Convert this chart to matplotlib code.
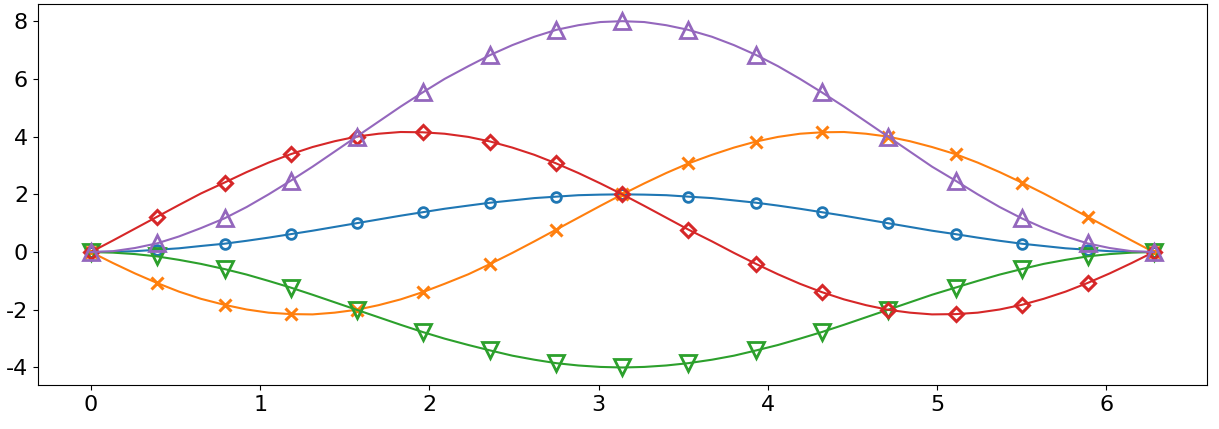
import matplotlib
matplotlib.use("Agg")
import matplotlib.pyplot as plt

plt.rcParams['axes.unicode_minus'] = False

x = [0, 0.13, 0.26, 0.39, 0.52, 0.65, 0.79, 0.92, 1.05, 1.18, 1.31, 1.44, 1.57, 1.70, 1.83, 1.96,
     2.09, 2.23, 2.36, 2.49, 2.62, 2.75, 2.88, 3.01, 3.14, 3.27, 3.40, 3.53, 3.67, 3.80, 3.93, 4.06,
     4.19, 4.32, 4.45, 4.58, 4.71, 4.84, 4.97, 5.11, 5.24, 5.37, 5.50, 5.63, 5.76, 5.89, 6.02, 6.15, 6.28]

blue = [0, 0.01, 0.03, 0.08, 0.13, 0.21, 0.29, 0.39, 0.50, 0.62, 0.74, 0.87, 1.00, 1.13, 1.26, 1.38,
        1.50, 1.61, 1.71, 1.79, 1.87, 1.92, 1.97, 1.99, 2.00, 1.99, 1.97, 1.92, 1.87, 1.79, 1.71, 1.61,
        1.50, 1.38, 1.26, 1.13, 1.00, 0.87, 0.74, 0.62, 0.50, 0.39, 0.29, 0.21, 0.13, 0.08, 0.03, 0.01, 0]

orange = [0, -0.38, -0.74, -1.07, -1.37, -1.62, -1.83, -1.99, -2.10, -2.15, -2.16, -2.10, -2.00, -1.84,
          -1.64, -1.39, -1.10, -0.77, -0.41, -0.03, 0.37, 0.78, 1.19, 1.60, 2.00, 2.38, 2.74, 3.07, 3.37,
          3.62, 3.83, 3.99, 4.10, 4.15, 4.16, 4.10, 4.00, 3.84, 3.64, 3.39, 3.10, 2.77, 2.41, 2.03, 1.63,
          1.22, 0.81, 0.40, 0]

green = [0, -0.02, -0.07, -0.15, -0.27, -0.41, -0.59, -0.78, -1.00, -1.23, -1.48, -1.74, -2.00, -2.26,
         -2.52, -2.77, -3.00, -3.22, -3.41, -3.59, -3.73, -3.85, -3.93, -3.98, -4.00, -3.98, -3.93, -3.85,
         -3.73, -3.59, -3.41, -3.22, -3.00, -2.77, -2.52, -2.26, -2.00, -1.74, -1.48, -1.23, -1.00, -0.78,
         -0.59, -0.41, -0.27, -0.15, -0.07, -0.02, 0]

red = [0, 0.40, 0.81, 1.22, 1.63, 2.03, 2.41, 2.77, 3.10, 3.39, 3.64, 3.84, 4.00, 4.10, 4.16, 4.15, 4.10,
       3.99, 3.83, 3.62, 3.37, 3.07, 2.74, 2.38, 2.00, 1.60, 1.19, 0.78, 0.37, -0.03, -0.41, -0.77, -1.10,
       -1.39, -1.64, -1.84, -2.00, -2.10, -2.16, -2.15, -2.10, -1.99, -1.83, -1.62, -1.37, -1.07, -0.74,
       -0.38, 0]

purple = [0, 0.03, 0.14, 0.30, 0.54, 0.83, 1.17, 1.56, 2.00, 2.47, 2.96, 3.48, 4.00, 4.52, 5.04, 5.53,
          6.00, 6.44, 6.83, 7.17, 7.46, 7.70, 7.86, 7.97, 8.00, 7.97, 7.86, 7.70, 7.46, 7.17, 6.83, 6.44,
          6.00, 5.53, 5.04, 4.52, 4.00, 3.48, 2.96, 2.47, 2.00, 1.56, 1.17, 0.83, 0.54, 0.30, 0.14, 0.03, 0]

fig = plt.figure(figsize=(12.19, 4.29), dpi=100)
ax = fig.add_axes([0.031, 0.103, 0.959, 0.888])

every = 3
ax.plot(x, blue, color='C0', lw=1.5, marker='o', ms=7, mfc='none', mew=2, markevery=every)
ax.plot(x, orange, color='C1', lw=1.5, marker='x', ms=9, mew=2.2, markevery=every)
ax.plot(x, green, color='C2', lw=1.5, marker='v', ms=11, mfc='none', mew=2, markevery=every)
ax.plot(x, red, color='C3', lw=1.5, marker='D', ms=7, mfc='none', mew=2.2, markevery=every)
ax.plot(x, purple, color='C4', lw=1.5, marker='^', ms=11, mfc='none', mew=2, markevery=every)

ax.set_xticks([0, 1, 2, 3, 4, 5, 6])
ax.set_yticks([-4, -2, 0, 2, 4, 6, 8])
ax.tick_params(labelsize=16)

fig.savefig("out.png", dpi=100)
